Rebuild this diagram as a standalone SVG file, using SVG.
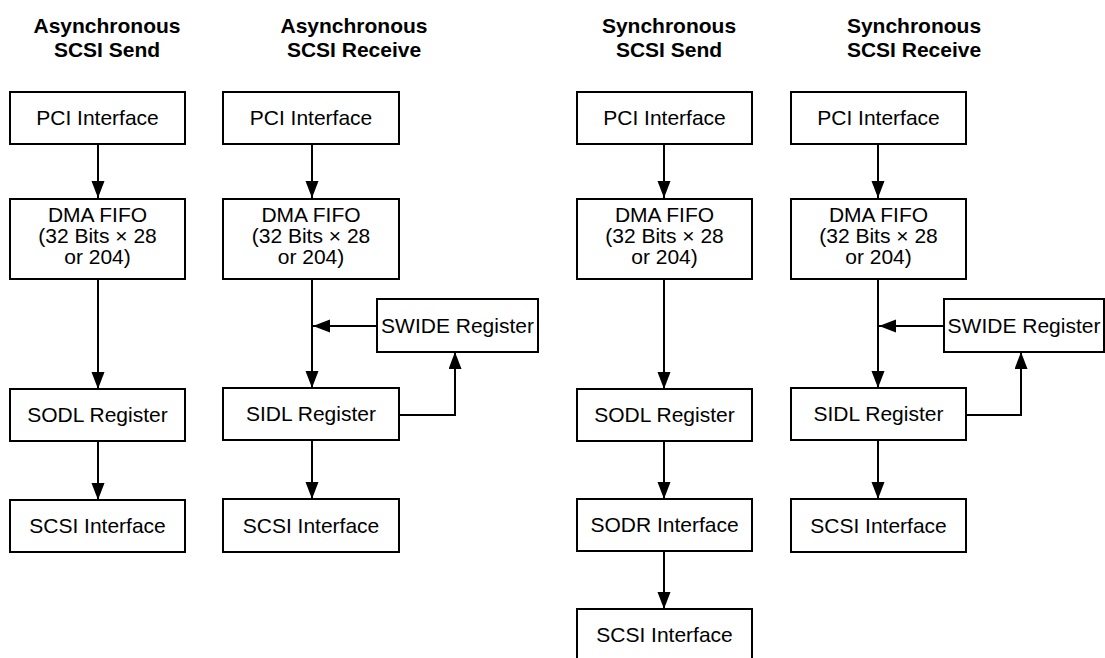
<svg xmlns="http://www.w3.org/2000/svg" width="1105" height="658" viewBox="0 0 1105 658">
<defs>
<style>
.box{fill:#fff;stroke:#000;stroke-width:2}
.t{font-family:"Liberation Sans",Arial,sans-serif;font-size:21px;fill:#000;text-anchor:middle}
.h{font-family:"Liberation Sans",Arial,sans-serif;font-size:21px;font-weight:bold;fill:#000;text-anchor:middle}
.c{fill:none;stroke:#000;stroke-width:2}
</style>
<marker id="ah" markerUnits="userSpaceOnUse" markerWidth="18" markerHeight="14" refX="17" refY="6.5" orient="auto">
<path d="M0,0 L17,6.5 L0,13 Z" fill="#000"/>
</marker>
</defs>
<rect width="1105" height="658" fill="#fff"/>
<g id="titles">
<text class="h" x="107" y="33">Asynchronous</text>
<text class="h" x="107" y="57">SCSI Send</text>
<text class="h" x="354" y="33">Asynchronous</text>
<text class="h" x="354" y="57">SCSI Receive</text>
<text class="h" x="669" y="33">Synchronous</text>
<text class="h" x="669" y="57">SCSI Send</text>
<text class="h" x="914" y="33">Synchronous</text>
<text class="h" x="914" y="57">SCSI Receive</text>
</g>
<g id="connectors">
<line class="c" x1="98" y1="144" x2="98" y2="198" marker-end="url(#ah)"/>
<line class="c" x1="98" y1="279" x2="98" y2="389" marker-end="url(#ah)"/>
<line class="c" x1="98" y1="441" x2="98" y2="500" marker-end="url(#ah)"/>
<line class="c" x1="312" y1="144" x2="312" y2="198" marker-end="url(#ah)"/>
<line class="c" x1="312" y1="279" x2="312" y2="388" marker-end="url(#ah)"/>
<line class="c" x1="377" y1="326" x2="313" y2="326" marker-end="url(#ah)"/>
<line class="c" x1="312" y1="440" x2="312" y2="499" marker-end="url(#ah)"/>
<polyline class="c" points="399,415 455,415 455,352" marker-end="url(#ah)"/>
<line class="c" x1="664" y1="144" x2="664" y2="198" marker-end="url(#ah)"/>
<line class="c" x1="664" y1="279" x2="664" y2="389" marker-end="url(#ah)"/>
<line class="c" x1="664" y1="441" x2="664" y2="499" marker-end="url(#ah)"/>
<line class="c" x1="664" y1="551" x2="664" y2="609" marker-end="url(#ah)"/>
<line class="c" x1="878" y1="144" x2="878" y2="198" marker-end="url(#ah)"/>
<line class="c" x1="878" y1="279" x2="878" y2="388" marker-end="url(#ah)"/>
<line class="c" x1="944" y1="326" x2="879" y2="326" marker-end="url(#ah)"/>
<line class="c" x1="878" y1="440" x2="878" y2="499" marker-end="url(#ah)"/>
<polyline class="c" points="966,415 1021,415 1021,352" marker-end="url(#ah)"/>
</g>
<g id="a-pci"><rect class="box" x="10" y="92" width="175" height="52"/><text class="t" x="97.5" y="125">PCI Interface</text></g>
<g id="a-dma"><rect class="box" x="10" y="199" width="175" height="80"/><text class="t" x="97.5" y="222">DMA FIFO</text><text class="t" x="97.5" y="243">(32 Bits × 28</text><text class="t" x="97.5" y="264">or 204)</text></g>
<g id="a-sodl"><rect class="box" x="10" y="389" width="175" height="52"/><text class="t" x="97.5" y="422">SODL Register</text></g>
<g id="a-scsi"><rect class="box" x="10" y="500" width="175" height="52"/><text class="t" x="97.5" y="533">SCSI Interface</text></g>
<g id="b-pci"><rect class="box" x="223" y="92" width="176" height="52"/><text class="t" x="311" y="125">PCI Interface</text></g>
<g id="b-dma"><rect class="box" x="223" y="199" width="176" height="80"/><text class="t" x="311" y="222">DMA FIFO</text><text class="t" x="311" y="243">(32 Bits × 28</text><text class="t" x="311" y="264">or 204)</text></g>
<g id="b-swide"><rect class="box" x="377" y="299" width="161" height="53"/><text class="t" x="457.5" y="333">SWIDE Register</text></g>
<g id="b-sidl"><rect class="box" x="223" y="388" width="176" height="52"/><text class="t" x="311" y="421">SIDL Register</text></g>
<g id="b-scsi"><rect class="box" x="223" y="499" width="176" height="53"/><text class="t" x="311" y="533">SCSI Interface</text></g>
<g id="c-pci"><rect class="box" x="577" y="92" width="175" height="52"/><text class="t" x="664.5" y="125">PCI Interface</text></g>
<g id="c-dma"><rect class="box" x="577" y="199" width="175" height="80"/><text class="t" x="664.5" y="222">DMA FIFO</text><text class="t" x="664.5" y="243">(32 Bits × 28</text><text class="t" x="664.5" y="264">or 204)</text></g>
<g id="c-sodl"><rect class="box" x="577" y="389" width="175" height="52"/><text class="t" x="664.5" y="422">SODL Register</text></g>
<g id="c-sodr"><rect class="box" x="577" y="499" width="175" height="52"/><text class="t" x="664.5" y="532">SODR Interface</text></g>
<g id="c-scsi"><rect class="box" x="577" y="609" width="175" height="55"/><text class="t" x="664.5" y="642">SCSI Interface</text></g>
<g id="d-pci"><rect class="box" x="791" y="92" width="175" height="52"/><text class="t" x="878.5" y="125">PCI Interface</text></g>
<g id="d-dma"><rect class="box" x="791" y="199" width="175" height="80"/><text class="t" x="878.5" y="222">DMA FIFO</text><text class="t" x="878.5" y="243">(32 Bits × 28</text><text class="t" x="878.5" y="264">or 204)</text></g>
<g id="d-swide"><rect class="box" x="944" y="299" width="160" height="53"/><text class="t" x="1024" y="333">SWIDE Register</text></g>
<g id="d-sidl"><rect class="box" x="791" y="388" width="175" height="52"/><text class="t" x="878.5" y="421">SIDL Register</text></g>
<g id="d-scsi"><rect class="box" x="791" y="499" width="175" height="53"/><text class="t" x="878.5" y="533">SCSI Interface</text></g>
</svg>
